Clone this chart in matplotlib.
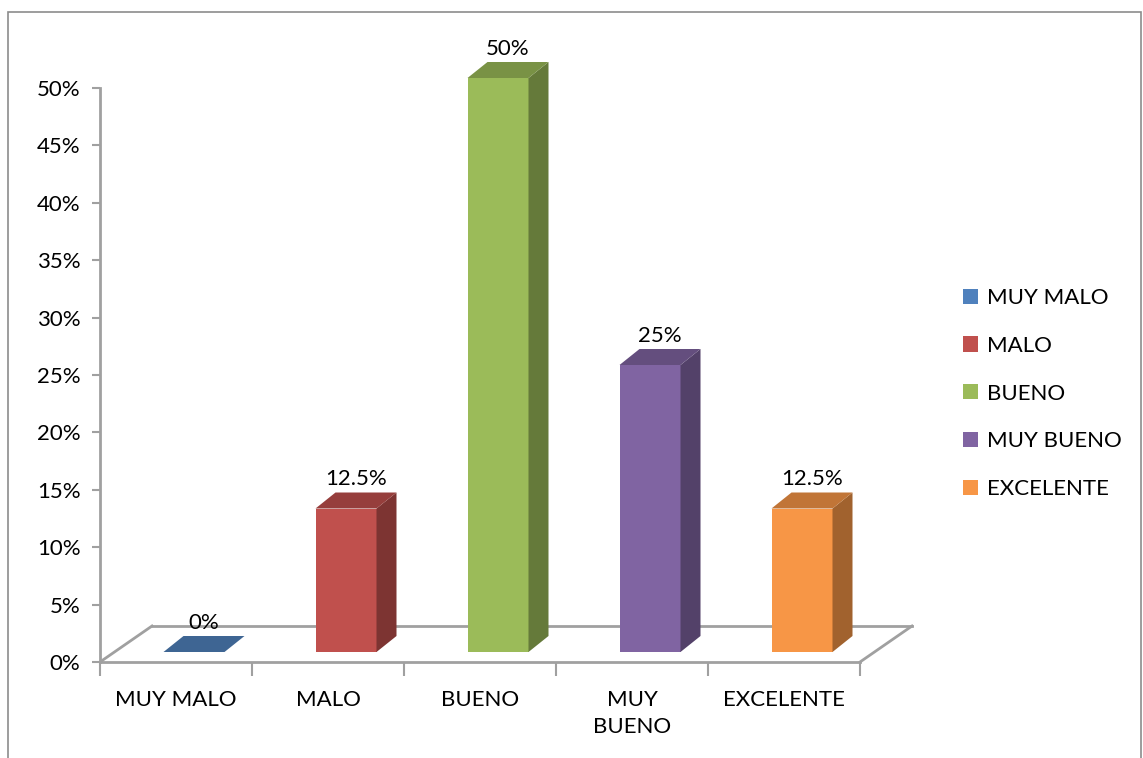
import numpy as np
import matplotlib.pyplot as plt
from matplotlib.patches import Polygon, Rectangle
from matplotlib.colors import to_rgb

categories = ["MUY MALO", "MALO", "BUENO", "MUY BUENO", "EXCELENTE"]
tick_labels = ["MUY MALO", "MALO", "BUENO", "MUY\nBUENO", "EXCELENTE"]
values = [0, 12.5, 50, 25, 12.5]
value_labels = ["0%", "12.5%", "50%", "25%", "12.5%"]
colors = ["#4F81BD", "#C0504D", "#9BBB59", "#8064A2", "#F79646"]

plt.rcParams["font.family"] = ["Lato", "DejaVu Sans"]

W, H = 1143, 758
fig = plt.figure(figsize=(W / 100, H / 100), dpi=100)

# pixel geometry of the plot area
px_left, px_right, px_bottom, px_top = 100, 912, 662, 40
cat_px = 152.0
pct_px = 11.48
ax = fig.add_axes([px_left / W, (H - px_bottom) / H,
                   (px_right - px_left) / W, (px_bottom - px_top) / H])
ax.set_xlim(-0.5, -0.5 + (px_right - px_left) / cat_px)
ax.set_ylim(0, (px_bottom - px_top) / pct_px)

# floor depth and bar depth (converted to data units)
floor_dx, floor_dy = 52 / cat_px, 36 / pct_px
bar_dx, bar_dy = 20 / cat_px, 16 / pct_px
bar_shift, bar_base, bar_w = 18 / cat_px, 10 / pct_px, 61 / cat_px

grey = "#A0A0A0"
n = len(categories)
# floor outline
ax.plot([-0.5 + floor_dx, n - 0.5 + floor_dx], [floor_dy, floor_dy], color=grey, lw=2, clip_on=False, zorder=1)
ax.plot([-0.5, -0.5 + floor_dx], [0, floor_dy], color=grey, lw=2, clip_on=False, zorder=1)
ax.plot([n - 0.5, n - 0.5 + floor_dx], [0, floor_dy], color=grey, lw=2, clip_on=False, zorder=1)


def shade(c, f):
    r, g, b = to_rgb(c)
    return (r * f, g * f, b * f)


for i, (v, c, lab) in enumerate(zip(values, colors, value_labels)):
    x0 = i - bar_w / 2 + bar_shift
    x1 = x0 + bar_w
    top = bar_base + v
    if v > 0:
        ax.bar(x0 + bar_w / 2, v, width=bar_w, bottom=bar_base, color=c, zorder=3)
        side = Polygon([(x1, bar_base), (x1 + bar_dx, bar_base + bar_dy),
                        (x1 + bar_dx, top + bar_dy), (x1, top)],
                       closed=True, facecolor=shade(c, 0.65), edgecolor="none", zorder=3)
        ax.add_patch(side)
    topf = Polygon([(x0, top), (x1, top), (x1 + bar_dx, top + bar_dy), (x0 + bar_dx, top + bar_dy)],
                   closed=True, facecolor=shade(c, 0.78), edgecolor="none", zorder=3)
    ax.add_patch(topf)
    ax.annotate(lab, (x0 + bar_w / 2 + bar_dx / 2, top), xytext=(0, 21),
                textcoords="offset points", ha="center", va="center", fontsize=16)

# axes styling
for s in ["top", "right"]:
    ax.spines[s].set_visible(False)
ax.spines["left"].set_bounds(0, 50)
ax.spines["bottom"].set_bounds(-0.5, n - 0.5)
for s in ["left", "bottom"]:
    ax.spines[s].set_color(grey)
    ax.spines[s].set_linewidth(2)

ax.set_yticks(np.arange(0, 51, 5))
ax.set_yticklabels([f"{t}%" for t in range(0, 51, 5)], fontsize=16)
ax.tick_params(axis="y", length=6, width=1.5, color=grey, pad=8)

ax.set_xticks(np.arange(n))
ax.set_xticklabels(tick_labels, fontsize=16, linespacing=1.45)
ax.set_xticks(np.arange(n + 1) - 0.5, minor=True)
ax.tick_params(axis="x", which="major", length=0, pad=20)
ax.tick_params(axis="x", which="minor", length=10, width=1.5, color=grey)

# legend
handles = [Rectangle((0, 0), 1, 1, facecolor=c) for c in colors]
fig.legend(handles, categories, loc="upper left", bbox_to_anchor=(943 / W, 1 - 268 / H),
           frameon=False, fontsize=16, handlelength=0.68, handleheight=0.68,
           handletextpad=0.4, labelspacing=1.25)

# outer chart border
fig.add_artist(Rectangle((8 / W, -0.05), (W - 10) / W, 1.05 - 12 / H, transform=fig.transFigure,
                         fill=False, edgecolor="#8C8C8C", lw=1.2))

fig.savefig("out.png", dpi=100)
